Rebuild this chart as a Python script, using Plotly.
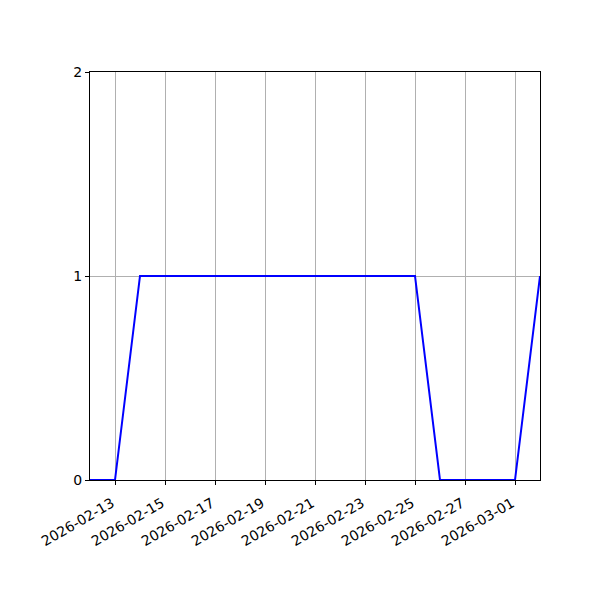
import plotly.graph_objects as go

dates = ["2026-02-12", "2026-02-13", "2026-02-14", "2026-02-15", "2026-02-16",
         "2026-02-17", "2026-02-18", "2026-02-19", "2026-02-20", "2026-02-21",
         "2026-02-22", "2026-02-23", "2026-02-24", "2026-02-25", "2026-02-26",
         "2026-02-27", "2026-02-28", "2026-03-01", "2026-03-02"]
values = [0, 0, 1, 1, 1, 1, 1, 1, 1, 1, 1, 1, 1, 1, 0, 0, 0, 0, 1]
y_ticks = [0, 1, 2]

fig = go.Figure(go.Scatter(x=dates, y=values, mode="lines",
                           line=dict(color="blue", width=2)))

axis_common = dict(showline=True, linecolor="black", linewidth=1, mirror=True,
                   ticks="outside", ticklen=4, tickcolor="black", tickwidth=1,
                   showgrid=True, gridcolor="#b0b0b0", gridwidth=1, zeroline=False,
                   automargin=False,
                   tickfont=dict(family="DejaVu Sans", size=14, color="black"))

fig.update_layout(
    width=600, height=600,
    margin=dict(l=82, r=68, t=64, b=128),
    plot_bgcolor="white", paper_bgcolor="white",
    showlegend=False,
    xaxis=dict(range=["2026-02-12", "2026-03-02"], tick0="2026-02-13",
               dtick=2 * 86400000, tickformat="%Y-%m-%d", tickangle=-30,
               ticklabelstandoff=5, ticklabelshift=-3,
               **axis_common),
    yaxis=dict(range=[0, 2], tickvals=y_ticks, ticktext=[str(v) for v in y_ticks],
               **axis_common),
)

fig.write_html("out.html")
